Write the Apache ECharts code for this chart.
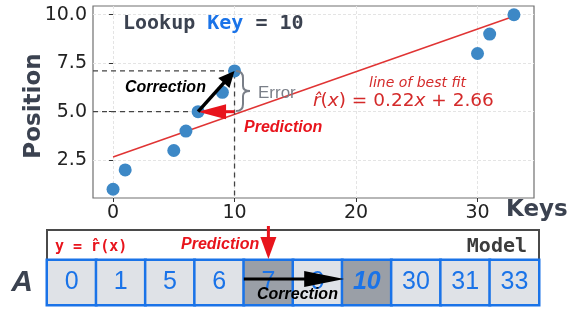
<!DOCTYPE html>
<html>
<head>
<meta charset="utf-8">
<script src="https://cdn.jsdelivr.net/npm/echarts@6/dist/echarts.min.js"></script>
<style>
html, body { margin: 0; padding: 0; background: #fff; }
#chart { width: 570px; height: 311px; }
</style>
</head>
<body>
<div id="chart"></div>
<script>
// sorted keys and their positions in the array
const keys = [0, 1, 5, 6, 7, 9, 10, 30, 31, 33];
const positions = [1, 2, 3, 4, 5, 6, 7.1, 8, 9, 10];
// line of best fit r(x) = slope * x + intercept
const fitSlope = 0.22;
const fitIntercept = 2.66;
const fitRange = [0, 33];
// axes
const xLimits = [-1.65, 34.65];
const yLimits = [0.55, 10.45];
const xTicks = [0, 10, 20, 30];
const yTicks = [2.5, 5, 7.5, 10];
// the lookup
const lookupKey = 10;
const predictedPos = 5;
const actualPos = 7.1;
const predictedIdx = 4;
const actualIdx = 6;

const blue = '#1a73e8';
const red = '#e8141c';
const slate = '#3b4250';

const chart = echarts.init(document.getElementById('chart'));

const cells = keys.map((k, i) => {
  const item = {
    value: [i, 0, k],
    itemStyle: { color: (i === predictedIdx || i === actualIdx) ? '#9a9fa7' : '#dfe2e7' }
  };
  if (i === actualIdx) item.label = { fontWeight: 'bold', fontStyle: 'italic' };
  return item;
});

chart.setOption({
  animation: false,
  grid: [
    { left: 93, top: 6, width: 441, height: 192, show: true, borderColor: '#707070', borderWidth: 1.2 },
    { left: 47, top: 260, width: 492, height: 45 }
  ],
  xAxis: [
    {
      type: 'value', gridIndex: 0, min: xLimits[0], max: xLimits[1],
      axisLine: { show: false },
      axisTick: { show: true, length: 4, customValues: xTicks, lineStyle: { color: '#333' } },
      axisLabel: { customValues: xTicks, margin: 6, fontSize: 19, fontFamily: 'DejaVu Sans', color: '#222' },
      splitLine: { show: true, lineStyle: { color: '#e4e4e4', type: [3, 2] } }
    },
    { type: 'category', gridIndex: 1, data: keys.map(String), show: false }
  ],
  yAxis: [
    {
      type: 'value', gridIndex: 0, min: yLimits[0], max: yLimits[1],
      axisLine: { show: false },
      axisTick: { show: true, length: 4, customValues: yTicks, lineStyle: { color: '#333' } },
      axisLabel: {
        customValues: yTicks, margin: 6, fontSize: 19, fontFamily: 'DejaVu Sans', color: '#222',
        formatter: v => v.toFixed(1)
      },
      splitLine: { show: true, lineStyle: { color: '#e4e4e4', type: [3, 2] } }
    },
    {
      type: 'category', gridIndex: 1, data: ['A'],
      axisLine: { show: false }, axisTick: { show: false },
      axisLabel: { margin: 14, fontSize: 30, fontWeight: 'bold', fontStyle: 'italic', fontFamily: 'Liberation Sans', color: slate }
    }
  ],
  series: [
    {
      type: 'line', xAxisIndex: 0, yAxisIndex: 0, symbol: 'none', silent: true,
      data: fitRange.map(x => [x, fitSlope * x + fitIntercept]),
      lineStyle: { color: '#e03434', width: 1.5 }
    },
    {
      type: 'line', symbol: 'none', silent: true,
      data: [[xLimits[0], actualPos], [lookupKey, actualPos], [lookupKey, yLimits[0]]],
      lineStyle: { color: '#444', width: 1.3, type: [5, 4] }
    },
    {
      type: 'line', symbol: 'none', silent: true,
      data: [[xLimits[0], predictedPos], [lookupKey, predictedPos]],
      lineStyle: { color: '#444', width: 1.3, type: [5, 4] }
    },
    {
      type: 'scatter', xAxisIndex: 0, yAxisIndex: 0, symbolSize: 13, z: 3,
      data: keys.map((k, i) => [k, positions[i]]),
      itemStyle: { color: '#3d88c6', opacity: 1 }
    },
    {
      type: 'heatmap', xAxisIndex: 1, yAxisIndex: 1,
      data: cells,
      itemStyle: { borderColor: blue, borderWidth: 2.5 },
      label: { show: true, color: blue, fontSize: 25, fontFamily: 'Liberation Sans', formatter: p => p.value[2] },
      emphasis: { disabled: true }
    }
  ]
});

// arrow made of a shaft and a triangular head
function arrow(p0, p1, color, lw, headLen, headW) {
  const dx = p1[0] - p0[0], dy = p1[1] - p0[1];
  const len = Math.hypot(dx, dy);
  const ux = dx / len, uy = dy / len;
  const bx = p1[0] - ux * headLen, by = p1[1] - uy * headLen;
  const nx = -uy, ny = ux;
  return [
    { type: 'line', z: 50, shape: { x1: p0[0], y1: p0[1], x2: bx + ux, y2: by + uy }, style: { stroke: color, lineWidth: lw } },
    {
      type: 'polygon', z: 50,
      shape: { points: [[p1[0], p1[1]], [bx + nx * headW / 2, by + ny * headW / 2], [bx - nx * headW / 2, by - ny * headW / 2]] },
      style: { fill: color }
    }
  ];
}

function txt(x, y, text, o) {
  return {
    type: 'text', z: 60, x: x, y: y, rotation: o.rotation || 0,
    style: Object.assign({ text: text, verticalAlign: 'middle', align: 'left' }, o.style)
  };
}

// curly brace "}" from top (x, y0) to bottom (x, y1)
function brace(x, y0, y1, w, color) {
  const m = (y0 + y1) / 2, r = 7;
  const st = { stroke: color, lineWidth: 2, fill: 'none' };
  const c = (x1, y1_, cx, cy, x2, y2) => ({ type: 'bezierCurve', z: 60, shape: { x1: x1, y1: y1_, cpx1: cx, cpy1: cy, x2: x2, y2: y2 }, style: st });
  const l = (x1, y1_, x2, y2) => ({ type: 'line', z: 60, shape: { x1: x1, y1: y1_, x2: x2, y2: y2 }, style: st });
  const xm = x + w / 2;
  return [
    c(x, y0, xm, y0, xm, y0 + r),
    l(xm, y0 + r, xm, m - 5),
    c(xm, m - 5, xm, m, x + w, m),
    c(x + w, m, xm, m, xm, m + 5),
    l(xm, m + 5, xm, y1 - r),
    c(xm, y1 - r, xm, y1, x, y1)
  ];
}

const toPx = p => chart.convertToPixel({ gridIndex: 0 }, p);
const predPt = toPx([keys[predictedIdx], predictedPos]);
const keyPred = toPx([lookupKey, predictedPos]);
const keyAct = toPx([lookupKey, actualPos]);

const cellX = i => chart.convertToPixel({ xAxisIndex: 1 }, i);
const cellW = cellX(1) - cellX(0);
const predCx = cellX(predictedIdx);
const actLeft = cellX(actualIdx) - cellW / 2;
const predLeft = cellX(predictedIdx) - cellW / 2;

const mono = '"DejaVu Sans Mono"';
const arial = '"Liberation Sans"';

chart.setOption({
  graphic: [
    // model row
    { type: 'rect', z: 1, shape: { x: 47, y: 230, width: 492, height: 30 }, style: { fill: '#fff', stroke: '#4a4a4a', lineWidth: 2 } },
    txt(55, 247, 'y = r\u0302(x)', { style: { fill: red, fontSize: 15, fontWeight: 'bold', fontFamily: mono } }),
    txt(181, 245, 'Prediction', { style: { fill: red, fontSize: 16, fontWeight: 'bold', fontStyle: 'italic', fontFamily: arial } }),
    txt(527, 247, 'Model', { style: { fill: '#3c3c3c', fontSize: 20, fontWeight: 'bold', fontFamily: mono, align: 'right' } }),
    ...arrow([predCx, 226], [predCx, 259], red, 3, 22, 16),
    ...arrow([predLeft, 279], [actLeft + 2, 279], '#000', 3, 40, 16),
    txt(257, 295, 'Correction', { style: { fill: '#000', fontSize: 16, fontWeight: 'bold', fontStyle: 'italic', fontFamily: arial } }),

    // plot annotations
    ...arrow(keyPred, predPt, red, 3, 28, 15),
    ...arrow(predPt, keyAct, '#000', 3.5, 16, 15),
    txt(123, 24, '', {
      style: {
        text: '{a|Lookup }{b|Key}{a| = 10}',
        rich: {
          a: { fill: slate, fontSize: 20, fontWeight: 'bold', fontFamily: mono },
          b: { fill: blue, fontSize: 20, fontWeight: 'bold', fontFamily: mono }
        }
      }
    }),
    txt(125, 88, 'Correction', { style: { fill: '#000', fontSize: 16, fontWeight: 'bold', fontStyle: 'italic', fontFamily: arial } }),
    ...brace(236, 71, 111, 14, '#7a7f88'),
    txt(258, 93, 'Error', { style: { fill: '#7a7f88', fontSize: 17, fontFamily: arial } }),
    txt(244, 128, 'Prediction', { style: { fill: red, fontSize: 16, fontWeight: 'bold', fontStyle: 'italic', fontFamily: arial } }),
    txt(369, 83, 'line of best fit', { style: { fill: '#d42a2a', fontSize: 14, fontStyle: 'italic', fontFamily: 'DejaVu Sans' } }),
    txt(313, 101, '', {
      style: {
        text: '{i|r\u0302}{n|(}{i|x}{n|) = 0.22}{i|x}{n| + 2.66}',
        rich: {
          i: { fill: '#d42a2a', fontSize: 18.5, fontStyle: 'italic', fontFamily: 'DejaVu Sans' },
          n: { fill: '#d42a2a', fontSize: 18.5, fontFamily: 'DejaVu Sans' }
        }
      }
    }),
    txt(34, 106, 'Position', { rotation: Math.PI / 2, style: { fill: slate, fontSize: 23, fontWeight: 'bold', fontFamily: 'DejaVu Sans', align: 'center' } }),
    txt(506, 210, 'Keys', { style: { fill: slate, fontSize: 23, fontWeight: 'bold', fontFamily: 'DejaVu Sans' } })
  ]
});
</script>
</body>
</html>
